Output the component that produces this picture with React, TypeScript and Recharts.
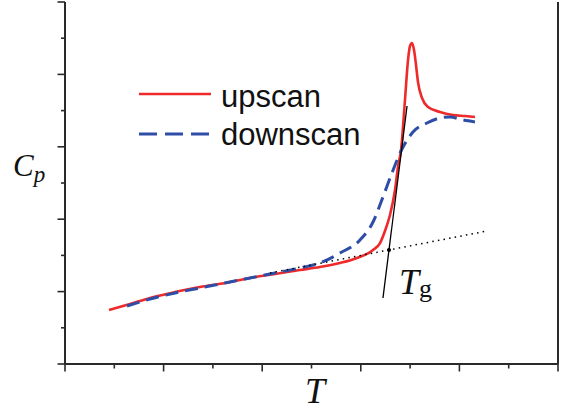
import { LineChart, Line, XAxis, YAxis, Legend, ReferenceDot } from 'recharts';

// upscan (red, solid)
const upT = [0.446, 0.659, 0.862, 1.116, 1.369, 1.623, 1.876, 2.13, 2.383, 2.586, 2.789, 2.961, 3.124, 3.195, 3.245, 3.296, 3.347, 3.377, 3.408, 3.448, 3.479, 3.499, 3.519, 3.54, 3.56, 3.58, 3.621, 3.682, 3.803, 3.935, 4.057, 4.158];
const upCp = [0.746, 0.829, 0.912, 0.994, 1.064, 1.119, 1.188, 1.243, 1.298, 1.34, 1.395, 1.464, 1.575, 1.671, 1.837, 2.058, 2.403, 2.721, 2.956, 3.646, 4.199, 4.392, 4.434, 4.337, 4.13, 3.895, 3.674, 3.55, 3.481, 3.439, 3.425, 3.412];

// downscan (blue, dashed)
const downT = [0.629, 0.862, 1.116, 1.369, 1.623, 1.876, 2.13, 2.383, 2.586, 2.789, 2.992, 3.124, 3.225, 3.316, 3.418, 3.529, 3.671, 3.803, 3.905, 4.037, 4.158];
const downCp = [0.801, 0.898, 0.981, 1.05, 1.119, 1.188, 1.257, 1.326, 1.395, 1.533, 1.713, 1.961, 2.307, 2.638, 2.97, 3.204, 3.329, 3.398, 3.412, 3.37, 3.343];

// construction lines for Tg
const tangentT = [3.225, 3.469];
const tangentCp = [0.912, 3.564];
const baseT = [2.079, 4.28];
const baseCp = [1.257, 1.837];
const tgPoint = { t: 3.286, cp: 1.575 };

const axisTicks = [0, 0.5, 1, 1.5, 2, 2.5, 3, 3.5, 4, 4.5, 5];

const RED = '#EE2A2A';
const BLUE = '#2E4DA7';
const AXIS = '#2a2a2a';
const SERIF = '"Liberation Serif", "Times New Roman", serif';
const SANS = '"Liberation Sans", Arial, sans-serif';

const zip = (t: number[], cp: number[]) => t.map((v, i) => ({ t: v, cp: cp[i] }));
const upData = zip(upT, upCp);
const downData = zip(downT, downCp);
const tangentData = zip(tangentT, tangentCp);
const baseData = zip(baseT, baseCp);

const isMajor = (v: number) => Math.abs(v - Math.round(v)) < 1e-6;

function BottomTick({ x, y, payload }: any) {
  const len = isMajor(payload.value) ? 7.5 : 4.5;
  return <line x1={x} x2={x} y1={y} y2={y + len} stroke={AXIS} strokeWidth={1.6} />;
}

function LeftTick({ x, y, payload }: any) {
  const len = isMajor(payload.value) ? 7.5 : 4;
  return <line x1={x} x2={x - len} y1={y} y2={y} stroke={AXIS} strokeWidth={1.6} />;
}

function RightTick({ x, y }: any) {
  return <line x1={x} x2={x + 4} y1={y} y2={y} stroke={AXIS} strokeWidth={1.4} />;
}

function CpLabel({ viewBox }: any) {
  return (
    <text x={viewBox.x + 13} y={viewBox.y + 174} fontFamily={SERIF} fontStyle="italic" fontSize={31} fill="#111">
      C<tspan fontSize={23} dy={6}>p</tspan>
    </text>
  );
}

function TLabel({ viewBox }: any) {
  return (
    <text x={viewBox.x + 240} y={viewBox.y + 39} fontFamily={SERIF} fontStyle="italic" fontSize={36} fill="#111">
      T
    </text>
  );
}

function TgLabel({ viewBox }: any) {
  const cx = viewBox.x + viewBox.width / 2;
  const cy = viewBox.y + viewBox.height / 2;
  return (
    <text x={cx + 10} y={cy + 44} fontFamily={SERIF} fontStyle="italic" fontSize={36} fill="#111">
      T<tspan fontSize={26} dy={3} fontStyle="normal">g</tspan>
    </text>
  );
}

function LegendBox() {
  return (
    <svg width={240} height={80}>
      <line x1={0} x2={72} y1={19} y2={19} stroke={RED} strokeWidth={2.5} />
      <text x={82} y={32} fontFamily={SANS} fontSize={31} fill="#111">upscan</text>
      <line x1={0} x2={72} y1={59} y2={59} stroke={BLUE} strokeWidth={3} strokeDasharray="18 8" />
      <text x={82} y={70} fontFamily={SANS} fontSize={31} fill="#111">downscan</text>
    </svg>
  );
}

export default function App() {
  return (
    <div style={{ position: 'absolute', left: 0, top: 0, width: 565, height: 412, background: '#fff' }}>
      <LineChart width={565} height={412} margin={{ top: 2, right: 0, left: 0, bottom: 0 }}>
        <XAxis
          dataKey="t"
          type="number"
          domain={[0, 5]}
          ticks={axisTicks}
          interval={0}
          height={48}
          tickSize={0}
          tickMargin={0}
          tick={<BottomTick />}
          tickLine={false}
          axisLine={{ stroke: AXIS, strokeWidth: 2 }}
          label={<TLabel />}
        />
        <XAxis
          xAxisId="top"
          orientation="top"
          dataKey="t"
          type="number"
          domain={[0, 5]}
          height={0}
          tick={false}
          tickLine={false}
          axisLine={{ stroke: AXIS, strokeWidth: 2 }}
        />
        <YAxis
          type="number"
          domain={[0, 5]}
          ticks={axisTicks}
          interval={0}
          width={65}
          tickSize={0}
          tickMargin={0}
          tick={<LeftTick />}
          tickLine={false}
          axisLine={{ stroke: AXIS, strokeWidth: 2 }}
          label={<CpLabel />}
        />
        <YAxis
          yAxisId="right"
          orientation="right"
          type="number"
          domain={[0, 5]}
          ticks={[1.9]}
          interval={0}
          width={7}
          tickSize={0}
          tickMargin={0}
          tick={<RightTick />}
          tickLine={false}
          axisLine={{ stroke: AXIS, strokeWidth: 2 }}
        />
        <Legend
          layout="horizontal"
          verticalAlign="middle"
          align="center"
          wrapperStyle={{ left: 139, top: 75, width: 240, height: 80 }}
          content={() => <LegendBox />}
        />
        <Line data={upData} dataKey="cp" type="monotone" stroke={RED} strokeWidth={2.6} dot={false} isAnimationActive={false} name="upscan" />
        <Line data={downData} dataKey="cp" type="monotone" stroke={BLUE} strokeWidth={3} strokeDasharray="13 7" dot={false} isAnimationActive={false} name="downscan" />
        <Line data={tangentData} dataKey="cp" type="linear" stroke="#000" strokeWidth={1.3} dot={false} isAnimationActive={false} legendType="none" />
        <Line data={baseData} dataKey="cp" type="linear" stroke="#000" strokeWidth={1.5} strokeDasharray="1.5 4.2" dot={false} isAnimationActive={false} legendType="none" />
        <ReferenceDot x={tgPoint.t} y={tgPoint.cp} r={2} fill="#000" stroke="none" label={<TgLabel />} />
      </LineChart>
    </div>
  );
}
